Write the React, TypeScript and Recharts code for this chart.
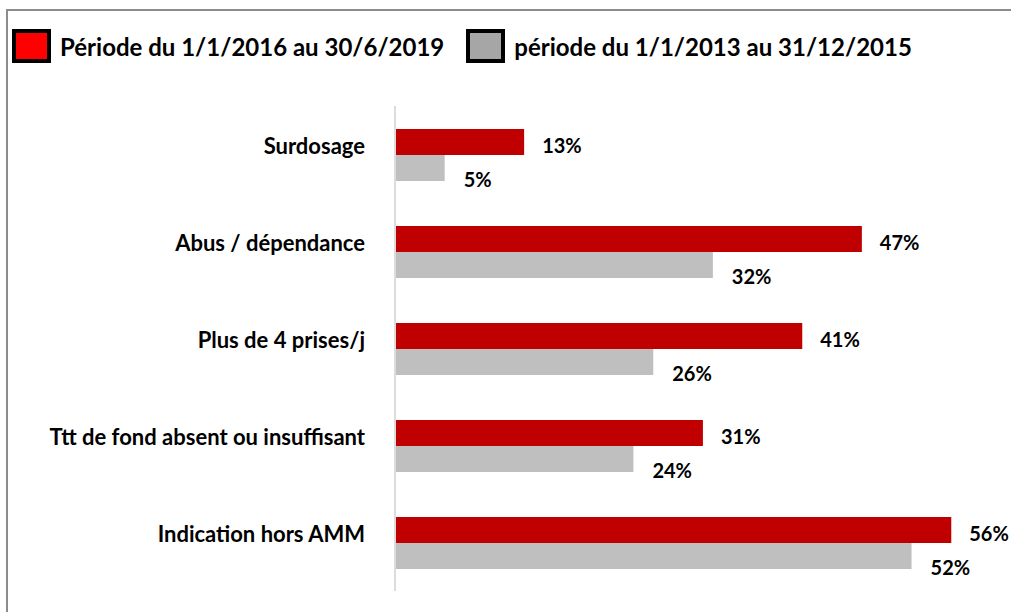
import { Bar, BarChart, LabelList, XAxis, YAxis } from "recharts";

const categories = [
  "Surdosage",
  "Abus / dépendance",
  "Plus de 4 prises/j",
  "Ttt de fond absent ou insuffisant",
  "Indication hors AMM",
];
const recent = [13, 47, 41, 31, 56];
const previous = [5, 32, 26, 24, 52];
const seriesNames = [
  "Période du 1/1/2016 au 30/6/2019",
  "période du 1/1/2013 au 31/12/2015",
];
const colors = ["#C00000", "#BFBFBF"];
const legendFill = ["#FF0000", "#A6A6A6"];

const data = categories.map((name, i) => ({
  name,
  recent: recent[i],
  previous: previous[i],
}));

const FONT = "Lato, 'Noto Sans', sans-serif";

const makeLabel = (dx: number, dy: number) => (props: any) => {
  const { x, y, width, height, value } = props;
  return (
    <text
      x={x + width + dx}
      y={y + height / 2 + dy}
      dominantBaseline="central"
      fontFamily={FONT}
      fontWeight={700}
      fontSize={20}
      fill="#000"
    >
      {value}%
    </text>
  );
};

const LegendBox = () => (
  <div
    style={{
      position: "absolute",
      left: 12,
      top: 29,
      display: "flex",
      alignItems: "center",
      fontFamily: FONT,
      whiteSpace: "nowrap",
    }}
  >
    {seriesNames.map((s, i) => (
      <div key={s} style={{ display: "flex", alignItems: "center", marginRight: 22 }}>
        <div
          style={{
            width: 31,
            height: 26,
            background: legendFill[i],
            border: "4px solid #000",
            marginRight: 9,
          }}
        />
        <span style={{ fontSize: 24, fontWeight: 700, color: "#000" }}>{s}</span>
      </div>
    ))}
  </div>
);

export default function App() {
  return (
    <div style={{ position: "absolute", left: 0, top: 0, width: 1011, height: 612, background: "#fff", overflow: "hidden" }}>
      <div
        style={{
          position: "absolute",
          left: 6,
          top: 9,
          width: 1011,
          height: 612,
          borderLeft: "2px solid #8c8c8c",
          borderTop: "2px solid #8c8c8c",
        }}
      />
      <LegendBox />
      <BarChart
        width={1011}
        height={612}
        data={data}
        layout="vertical"
        margin={{ top: 106, right: 20, bottom: 21, left: 0 }}
        barGap={0}
        barSize={26}
        style={{ position: "absolute", left: 0, top: 0 }}
      >
        <XAxis type="number" domain={[0, 60]} hide />
        <YAxis
          type="category"
          dataKey="name"
          width={395}
          tickLine={false}
          tickSize={0}
          tickMargin={30}
          axisLine={{ stroke: "#dcdcdc", strokeWidth: 2 }}
          tick={{ fontFamily: FONT, fontSize: 22, fontWeight: 700, fill: "#000", dy: -8 }}
        />
        <Bar dataKey="recent" name={seriesNames[0]} fill={colors[0]} isAnimationActive={false}>
          <LabelList dataKey="recent" content={makeLabel(18, 3)} />
        </Bar>
        <Bar dataKey="previous" name={seriesNames[1]} fill={colors[1]} isAnimationActive={false}>
          <LabelList dataKey="previous" content={makeLabel(19, 11)} />
        </Bar>
      </BarChart>
    </div>
  );
}
